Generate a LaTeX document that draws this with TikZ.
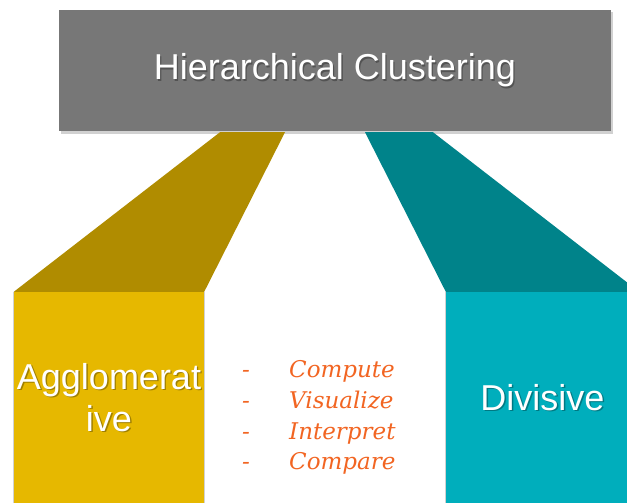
\documentclass[tikz,border=0pt]{standalone}
\usepackage{fontspec}
\setmainfont{Liberation Sans}
\newfontfamily\listfont{DejaVu Serif}
\usetikzlibrary{calc}
\definecolor{titlegray}{HTML}{777777}
\definecolor{goldtop}{HTML}{B08C00}
\definecolor{goldfront}{HTML}{E6B800}
\definecolor{tealtop}{HTML}{00838A}
\definecolor{tealfront}{HTML}{00AEBC}
\definecolor{listorange}{HTML}{F26522}
\begin{document}
\begin{tikzpicture}[x=1pt,y=-1pt,
  panel/.style={rectangle, inner sep=0pt, draw=none},
  whitetxt/.style={inner sep=0pt, text=white, font=\fontsize{36}{42}\selectfont, align=center},
  shadetxt/.style={inner sep=0pt, text=black, text opacity=0.3, font=\fontsize{36}{42}\selectfont, align=center},
  listtxt/.style={inner sep=0pt, text=listorange, font=\listfont\itshape\fontsize{23}{30}\selectfont},
  dropshadow/.style={fill=black, fill opacity=0.18}
]
\clip (0,0) rectangle (627,503);
\fill[white] (0,0) rectangle (627,503);

% title box
\fill[dropshadow] (61,12) rectangle (613,134);
\node[panel, fill=titlegray, minimum width=552pt, minimum height=121pt] (title) at (335,70.5) {};

% front boxes
\fill[dropshadow] (12.5,292) rectangle (205,505);
\node[panel, fill=goldfront, minimum width=190pt, minimum height=211pt] (agg) at (109,397.5) {};
\fill[dropshadow] (444.5,292) rectangle (640,505);
\node[panel, fill=tealfront, minimum width=193pt, minimum height=211pt] (div) at (542.5,397.5) {};

% connecting trapezoids
\coordinate (gA) at ($(title.south)+(-115,1)$);
\coordinate (gB) at ($(title.south)+(-50,1)$);
\coordinate (tA) at ($(title.south)+(30,1)$);
\coordinate (tB) at ($(title.south)+(98,1)$);
\fill[goldtop] (gA) -- (gB) -- (agg.north east) -- (agg.north west) -- cycle;
\fill[tealtop] (tA) -- (tB) -- (div.north east) -- (div.north west) -- cycle;

% texts
\node[shadetxt] (titlesh) at ($(title.center)+(1.3,1.5)$) {Hierarchical Clustering};
\node[whitetxt] (titletxt) at (title.center) {Hierarchical Clustering};
\node[shadetxt] (aggsh) at ($(agg.center)+(1.3,1.5)$) {Agglomerat\\ive};
\node[whitetxt] (aggtxt) at (agg.center) {Agglomerat\\ive};
\node[shadetxt] (divsh) at ($(div.center)+(1.3,1.5)$) {Divisive};
\node[whitetxt] (divtxt) at (div.center) {Divisive};

% list
\foreach \w/\yy [count=\i] in {Compute/377, Visualize/408, Interpret/439, Compare/469}
  \node[listtxt, anchor=base west] (item\i) at (242,\yy) {\makebox[47pt][l]{-}\w};
\end{tikzpicture}
\end{document}
